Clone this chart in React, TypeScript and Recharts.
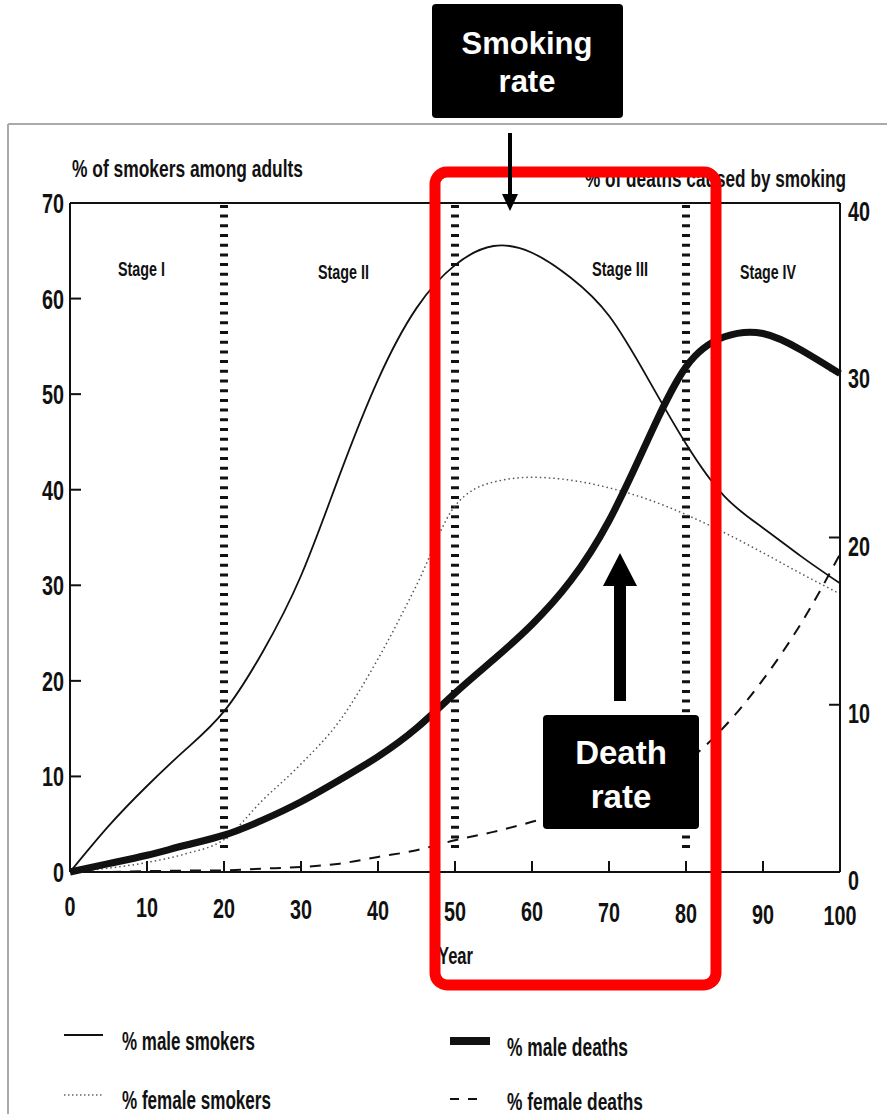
import React from 'react'
import {
  LineChart,
  Line,
  XAxis,
  YAxis,
  ReferenceLine,
} from 'recharts'

// years along the x axis
const years = [0, 5, 10, 15, 20, 25, 30, 35, 40, 45, 50, 55, 60, 65, 70, 75, 80, 85, 90, 95, 100]

// % of smokers among adults (left axis)
const maleSmokers = [0, 4.8, 9, 12.8, 16.8, 23, 31, 41.5, 51.5, 59, 63.5, 65.5, 64.8, 62.2, 58.2, 51.7, 44.8, 39.3, 36, 33, 30.2]
const femaleSmokers = [0, 0.4, 1.0, 1.9, 3.4, 7.5, 11.3, 15.8, 22.3, 30, 38.3, 40.8, 41.3, 41, 40.2, 39, 37.4, 35.5, 33.4, 31.2, 29.1]

// % of deaths caused by smoking (right axis)
const maleDeaths = [0, 0.5, 1.0, 1.6, 2.2, 3.1, 4.2, 5.5, 6.9, 8.6, 10.7, 12.7, 14.8, 17.4, 21, 25.8, 30.2, 32.0, 32.2, 31.2, 29.8]
const femaleDeaths = [0, 0, 0.05, 0.08, 0.1, 0.2, 0.3, 0.5, 0.9, 1.3, 1.9, 2.4, 3.0, 3.7, 4.5, 5.5, 6.6, 8.7, 11.5, 14.9, 19]

const xTicks = [0, 10, 20, 30, 40, 50, 60, 70, 80, 90, 100]
const leftTicks = [0, 10, 20, 30, 40, 50, 60, 70]
const rightTicks = [0, 10, 20, 30, 40]
const stageBounds = [20, 50, 80]

const chartData = years.map((year, i) => ({
  year,
  maleSmokers: maleSmokers[i],
  femaleSmokers: femaleSmokers[i],
  maleDeaths: maleDeaths[i],
  femaleDeaths: femaleDeaths[i],
}))

const NARROW = "'Liberation Sans Narrow', 'Arial Narrow', 'Liberation Sans', sans-serif"
const ARIAL = "'Liberation Sans', Arial, sans-serif"
const INK = '#111'

// plot box in page pixels
const PLOT_LEFT = 70
const PLOT_RIGHT = 840
const PLOT_BOTTOM = 872

// the scanned page is a little rotated, labels drift down to the right
const skew = (x: number) => ((x - PLOT_LEFT) / (PLOT_RIGHT - PLOT_LEFT)) * 9

function TickText({ x, y, anchor, value }: any) {
  const s = String(value)
  return (
    <text
      x={x}
      y={y}
      textAnchor={anchor}
      fontFamily={NARROW}
      fontWeight="bold"
      fontSize={27}
      fill={INK}
      textLength={s.length * 11}
      lengthAdjust="spacingAndGlyphs"
    >
      {s}
    </text>
  )
}

function LeftTick({ y, payload }: any) {
  return (
    <g>
      <line x1={PLOT_LEFT} x2={PLOT_LEFT + 11} y1={y} y2={y} stroke={INK} strokeWidth={2} />
      <TickText x={64} y={y + 10} anchor="end" value={payload.value} />
    </g>
  )
}

function RightTick({ y, payload }: any) {
  return (
    <g>
      <line x1={PLOT_RIGHT - 11} x2={PLOT_RIGHT} y1={y} y2={y} stroke={INK} strokeWidth={2} />
      <TickText x={848} y={y + 18} anchor="start" value={payload.value} />
    </g>
  )
}

function BottomTick({ x, payload }: any) {
  return (
    <g>
      <line x1={x} x2={x} y1={PLOT_BOTTOM} y2={PLOT_BOTTOM - 11} stroke={INK} strokeWidth={2} />
      <TickText x={x} y={916 + skew(x)} anchor="middle" value={payload.value} />
    </g>
  )
}

function Overlay() {
  const t = { fontFamily: NARROW, fontWeight: 'bold' as const, fill: INK }
  return (
    <svg
      width={887}
      height={1114}
      style={{ position: 'absolute', left: 0, top: 0, pointerEvents: 'none' }}
    >
      {/* scan frame */}
      <line x1={8} x2={887} y1={124} y2={124} stroke="#aaa" strokeWidth={2} />
      <line x1={8} x2={8} y1={124} y2={1114} stroke="#aaa" strokeWidth={2} />

      {/* axis titles */}
      <text x={72} y={177} fontSize={24} textLength={231} lengthAdjust="spacingAndGlyphs" {...t}>
        % of smokers among adults
      </text>
      <text x={585} y={187} fontSize={24} textLength={261} lengthAdjust="spacingAndGlyphs" {...t}>
        % of deaths caused by smoking
      </text>
      <text x={438} y={964} fontSize={24} textLength={35} lengthAdjust="spacingAndGlyphs" {...t}>
        Year
      </text>

      {/* stage labels */}
      <text x={118} y={276} fontSize={20} textLength={47} lengthAdjust="spacingAndGlyphs" {...t}>Stage I</text>
      <text x={318} y={279} fontSize={20} textLength={51} lengthAdjust="spacingAndGlyphs" {...t}>Stage II</text>
      <text x={592} y={276} fontSize={20} textLength={56} lengthAdjust="spacingAndGlyphs" {...t}>Stage III</text>
      <text x={740} y={279} fontSize={20} textLength={56} lengthAdjust="spacingAndGlyphs" {...t}>Stage IV</text>

      {/* legend */}
      <line x1={64} x2={103} y1={1035} y2={1035} stroke={INK} strokeWidth={2} />
      <text x={122} y={1050} fontSize={25} textLength={133} lengthAdjust="spacingAndGlyphs" {...t}>% male smokers</text>
      <line x1={64} x2={103} y1={1095} y2={1095} stroke="#666" strokeWidth={1.5} strokeDasharray="1.5 2.5" />
      <text x={122} y={1109} fontSize={25} textLength={149} lengthAdjust="spacingAndGlyphs" {...t}>% female smokers</text>
      <line x1={450} x2={490} y1={1041} y2={1041} stroke={INK} strokeWidth={8} />
      <text x={507} y={1056} fontSize={25} textLength={121} lengthAdjust="spacingAndGlyphs" {...t}>% male deaths</text>
      <line x1={450} x2={484} y1={1099} y2={1099} stroke={INK} strokeWidth={2} strokeDasharray="9 9" />
      <text x={507} y={1110} fontSize={24} textLength={136} lengthAdjust="spacingAndGlyphs" {...t}>% female deaths</text>

      {/* red highlight frame */}
      <rect x={435} y={172} width={281} height={813} rx={12} fill="none" stroke="#ff0000" strokeWidth={11} />

      {/* smoking rate callout */}
      <rect x={432} y={4} width={191} height={114} rx={4} fill="#000" />
      <text x={527} y={54} textAnchor="middle" fontFamily={ARIAL} fontWeight="bold" fontSize={31} fill="#fff">Smoking</text>
      <text x={527} y={92} textAnchor="middle" fontFamily={ARIAL} fontWeight="bold" fontSize={31} fill="#fff">rate</text>
      <line x1={510} x2={510} y1={133} y2={196} stroke="#000" strokeWidth={4} />
      <polygon points="502,194 518,194 510,211" fill="#000" />

      {/* death rate callout */}
      <rect x={614} y={584} width={12} height={117} fill="#000" />
      <polygon points="603,586 637,586 620,553" fill="#000" />
      <rect x={543} y={715} width={156} height={114} rx={4} fill="#000" />
      <text x={621} y={764} textAnchor="middle" fontFamily={ARIAL} fontWeight="bold" fontSize={33} fill="#fff">Death</text>
      <text x={621} y={808} textAnchor="middle" fontFamily={ARIAL} fontWeight="bold" fontSize={33} fill="#fff">rate</text>
    </svg>
  )
}

export default function App() {
  return (
    <div style={{ position: 'absolute', left: 0, top: 0, width: 887, height: 1114, background: '#fff' }}>
      <LineChart
        width={887}
        height={1114}
        data={chartData}
        margin={{ top: 203, right: 7, bottom: 192, left: 10 }}
      >
        <XAxis
          dataKey="year"
          type="number"
          domain={[0, 100]}
          ticks={xTicks}
          height={50}
          tickLine={false}
          axisLine={{ stroke: INK, strokeWidth: 2 }}
          tick={<BottomTick />}
        />
        <YAxis
          yAxisId="left"
          domain={[0, 70]}
          ticks={leftTicks}
          width={60}
          tickLine={false}
          axisLine={{ stroke: INK, strokeWidth: 2 }}
          tick={<LeftTick />}
        />
        <YAxis
          yAxisId="right"
          orientation="right"
          domain={[0, 40]}
          ticks={rightTicks}
          width={40}
          tickLine={false}
          axisLine={{ stroke: INK, strokeWidth: 2 }}
          tick={<RightTick />}
        />
        <ReferenceLine yAxisId="left" y={70} stroke={INK} strokeWidth={2} />
        {stageBounds.map((b) => (
          <ReferenceLine
            key={b}
            yAxisId="left"
            segment={[{ x: b, y: 2.5 }, { x: b, y: 70 }]}
            stroke={INK}
            strokeWidth={8}
            strokeDasharray="3 6.7"
          />
        ))}
        <Line
          yAxisId="left"
          type="natural"
          dataKey="maleSmokers"
          stroke={INK}
          strokeWidth={1.8}
          dot={false}
          isAnimationActive={false}
        />
        <Line
          yAxisId="left"
          type="monotone"
          dataKey="femaleSmokers"
          stroke="#555"
          strokeWidth={1.5}
          strokeDasharray="1.5 3"
          dot={false}
          isAnimationActive={false}
        />
        <Line
          yAxisId="right"
          type="natural"
          dataKey="maleDeaths"
          stroke={INK}
          strokeWidth={7}
          dot={false}
          isAnimationActive={false}
        />
        <Line
          yAxisId="right"
          type="monotone"
          dataKey="femaleDeaths"
          stroke={INK}
          strokeWidth={2}
          strokeDasharray="11 9"
          dot={false}
          isAnimationActive={false}
        />
      </LineChart>
      <Overlay />
    </div>
  )
}
